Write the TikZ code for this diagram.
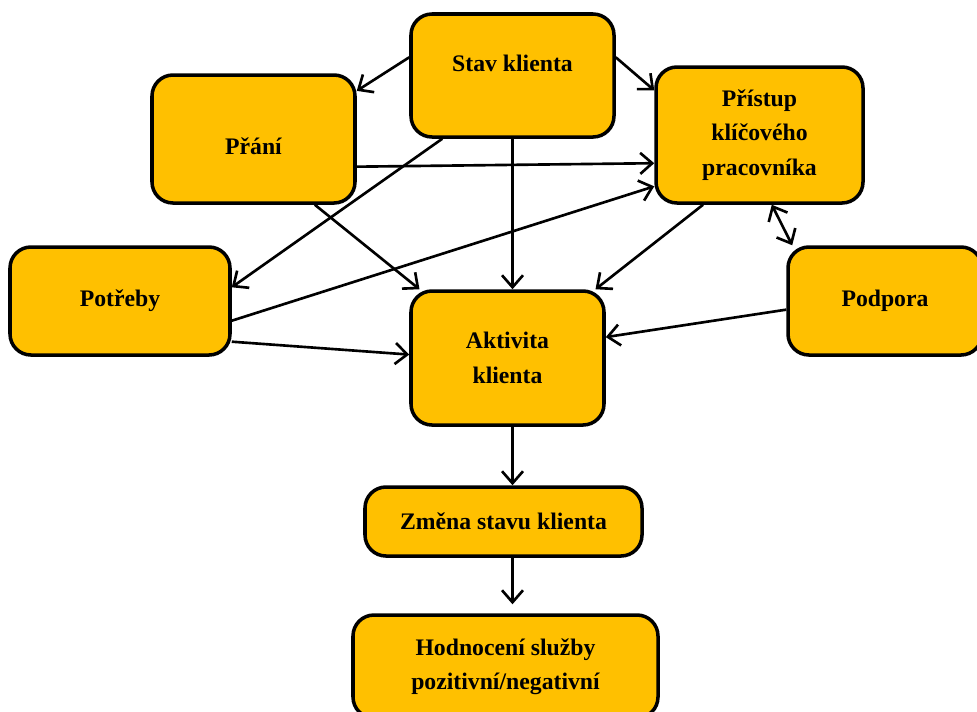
\documentclass[tikz,border=0pt]{standalone}
\usepackage{fontspec}
\setmainfont{Liberation Serif}
\usepackage{tikz}
\usetikzlibrary{arrows.meta}
\definecolor{gold}{RGB}{255,192,0}

\begin{document}
\begin{tikzpicture} [align=center, font=\fontsize{13.5}{19.5}\selectfont\bfseries,
  box/.style={draw, line width=2pt, fill=gold, rounded corners=0.42cm, inner sep=2pt},
  >={Straight Barb[length=2.4mm, width=4.2mm]}, every path/.style={line width=1.5pt}]
\useasboundingbox (0, 0) rectangle (19.54, -14.22);

\path (10.25, -1.51) node[box, minimum width=4.06cm, minimum height=2.46cm, text depth=0.48cm] (stav) {Stav klienta}
      (5.07, -2.78) node[box, minimum width=4.06cm, minimum height=2.56cm, text height=0.62cm] (prani) {Přání}
      (15.19, -2.70) node[box, minimum width=4.14cm, minimum height=2.72cm] (pristup) {Přístup\\klíčového\\pracovníka};

\path (2.40, -6.02) node[box, minimum width=4.4cm, minimum height=2.16cm] (potreby) {Potřeby}
      (17.70, -6.02) node[box, minimum width=3.88cm, minimum height=2.16cm] (podpora) {Podpora}
      (10.15, -7.16) node[box, minimum width=3.86cm, minimum height=2.68cm] (aktivita) {Aktivita\\klienta};

\path (10.07, -10.43) node[box, minimum width=5.54cm, minimum height=1.38cm] (zmena) {Změna stavu klienta}
      (10.11, -13.33) node[box, minimum width=6.1cm, minimum height=2.06cm] (hodnoceni) {Hodnocení služby\\pozitivní/negativní};

\draw[->] (stav.170) -- (prani.25);
\draw[->] (stav.10) -- (pristup.157);
\draw[->] (stav.222) -- (potreby.7);
\draw[->] (stav.south) -- (stav.south |- aktivita.north);
\draw[->] (prani.-15) -- (pristup.195);
\draw[->] (prani.-47) -- (aktivita.142);
\draw[->] (potreby.-10) -- (pristup.206);
\draw[->] (potreby.-20) -- (aktivita.178);
\draw[->] (pristup.231) -- (aktivita.38);
\draw[<->] (pristup.280) -- (podpora.149);
\draw[->] (podpora.185) -- (aktivita.12);

\draw[->] (stav.south |- aktivita.south) -- (stav.south |- zmena.north);
\draw[->] (stav.south |- zmena.south) -- ([yshift=0.18cm]stav.south |- hodnoceni.north);
\end{tikzpicture}
\end{document}
